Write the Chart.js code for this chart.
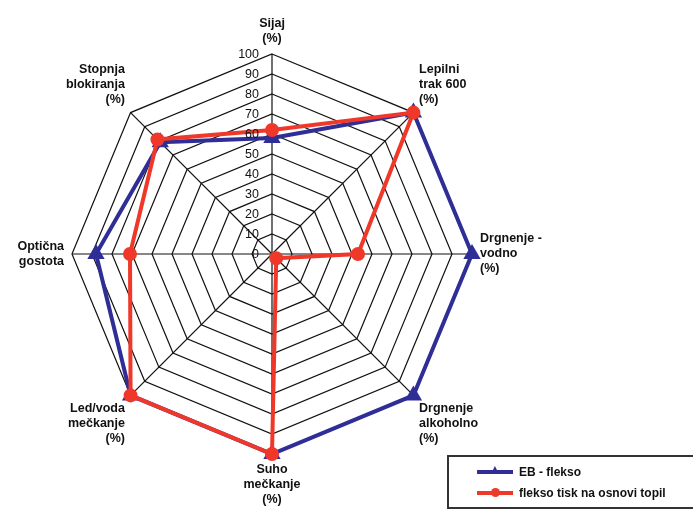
<!DOCTYPE html>
<html>
<head>
<meta charset="utf-8">
<script src="https://cdn.jsdelivr.net/npm/chart.js@4"></script>
<style>
    body { margin: 0; background: #fff; width: 693px; height: 514px; overflow: hidden; position: relative; font-family: "Liberation Sans", Arial, sans-serif; }
    #wrap { position: absolute; left: 0; top: 0; width: 556px; height: 514px; }
    #legend { position: absolute; left: 447px; top: 455px; width: 250px; height: 54px; border: 2px solid #333; box-sizing: border-box; font-weight: bold; font-size: 12px; color: #111; }
    .item { position: absolute; left: 28px; height: 14px; line-height: 14px; }
    .sym { position: absolute; left: 0; top: 5px; width: 36px; height: 4px; }
    .txt { position: absolute; left: 42px; top: 0; white-space: nowrap; }
</style>
</head>
<body>
<div id="wrap"><canvas id="radarChart"></canvas></div>
<div id="legend">
    <div class="item" style="top:8px"><span class="sym" style="background:#2e2e96"></span><span style="position:absolute;left:12px;top:-3px;color:#2e2e96;font-size:12px">▲</span><span class="txt">EB - flekso</span></div>
    <div class="item" style="top:29px"><span class="sym" style="background:#f0382a"></span><span style="position:absolute;left:14px;top:2px;width:9px;height:9px;border-radius:5px;background:#f0382a"></span><span class="txt">flekso tisk na osnovi topil</span></div>
</div>
<script>
const categories = [
    ['Sijaj', '(%)'],
    ['Lepilni', 'trak 600', '(%)'],
    ['Drgnenje -', 'vodno', '(%)'],
    ['Drgnenje', 'alkoholno', '(%)'],
    ['Suho', 'mečkanje', '(%)'],
    ['Led/voda', 'mečkanje', '(%)'],
    ['Optična', 'gostota'],
    ['Stopnja', 'blokiranja', '(%)']
];
const ebFlekso = [58, 100, 100, 100, 100, 100, 88, 79];
const fleksoTopila = [62, 100, 43, 3, 100, 100, 71, 81];
const tickValues = [0, 10, 20, 30, 40, 50, 60, 70, 80, 90, 100];

// draws the tick numbers just left of the top spoke
const tickLabelPlugin = {
    id: 'tickLabels',
    afterDatasetsDraw(chart) {
        const r = chart.scales.r;
        const ctx = chart.ctx;
        ctx.save();
        ctx.font = '12.5px "Liberation Sans", Arial, sans-serif';
        ctx.fillStyle = '#111';
        ctx.textAlign = 'right';
        ctx.textBaseline = 'middle';
        tickValues.forEach(function(v) {
            const d = r.getDistanceFromCenterForValue(v);
            ctx.fillText(String(v), r.xCenter - 13, r.yCenter - d + 1);
        });
        ctx.restore();
    }
};

document.addEventListener('DOMContentLoaded', function() {
    const ctx = document.getElementById('radarChart').getContext('2d');
    new Chart(ctx, {
        type: 'radar',
        data: {
            labels: categories,
            datasets: [{
                label: 'EB - flekso',
                data: ebFlekso,
                borderColor: '#2e2e96',
                backgroundColor: '#2e2e96',
                borderWidth: 4,
                pointStyle: 'triangle',
                pointRadius: 6,
                fill: false,
                order: 2
            }, {
                label: 'flekso tisk na osnovi topil',
                data: fleksoTopila,
                borderColor: '#f0382a',
                backgroundColor: '#f0382a',
                borderWidth: 4,
                pointStyle: 'circle',
                pointRadius: 5,
                fill: false,
                order: 1
            }]
        },
        options: {
            responsive: true,
            maintainAspectRatio: false,
            animation: false,
            layout: { padding: { top: 9, bottom: 0, left: 4, right: 0 } },
            plugins: {
                legend: { display: false },
                tooltip: { enabled: false }
            },
            scales: {
                r: {
                    min: 0,
                    max: 100,
                    afterBuildTicks: function(scale) {
                        scale.ticks = tickValues.map(function(v) { return { value: v }; });
                    },
                    ticks: { display: false },
                    grid: { color: '#111', lineWidth: 1.2 },
                    angleLines: { color: '#111', lineWidth: 1.2 },
                    pointLabels: {
                        color: '#111',
                        padding: 8,
                        font: { family: '"Liberation Sans", Arial, sans-serif', size: 12.5, weight: 'bold' }
                    }
                }
            }
        },
        plugins: [tickLabelPlugin]
    });
});
</script>
</body>
</html>
